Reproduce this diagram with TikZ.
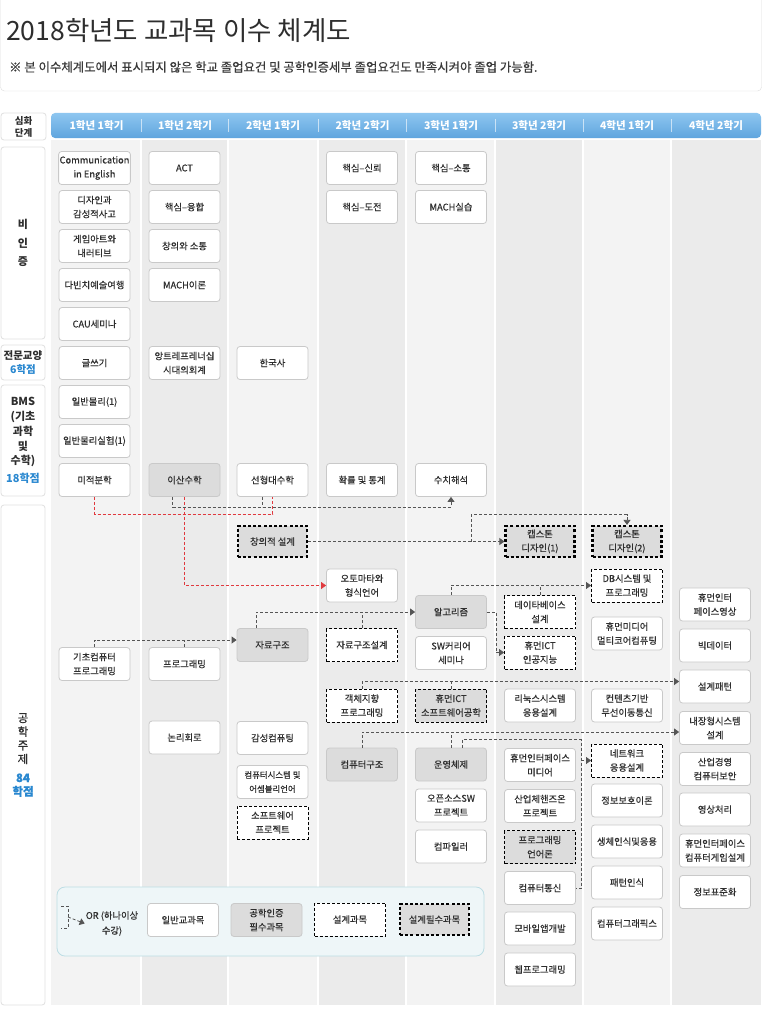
\documentclass[tikz,border=0pt]{standalone}
\usepackage{fontspec}
\setmainfont{Noto Sans CJK KR}
\newfontfamily\boxfont{Noto Sans CJK KR}[FakeBold=0.45]
\usetikzlibrary{arrows.meta}

\definecolor{colA}{HTML}{F3F3F3}
\definecolor{colB}{HTML}{EBEBEB}
\definecolor{boxline}{HTML}{C9C9C9}
\definecolor{sideline}{HTML}{E0E0E0}
\definecolor{reqfill}{HTML}{DCDCDC}
\definecolor{txt}{HTML}{2E2E2E}
\definecolor{subtxt}{HTML}{3A3A3A}
\definecolor{linkgray}{HTML}{555555}
\definecolor{linkred}{HTML}{E0393E}
\definecolor{credit}{HTML}{2A88D0}
\definecolor{hdrtop}{HTML}{8EC6F0}
\definecolor{hdrbot}{HTML}{5FA5DE}
\definecolor{legfill}{HTML}{EEF6F8}
\definecolor{legline}{HTML}{BCDDE4}
\definecolor{frame}{HTML}{DDDDDD}

\tikzset{
  course/.style={draw=boxline, fill=white, rounded corners=3pt, line width=0.8pt,
    minimum width=71pt, minimum height=33pt, inner sep=1pt, align=center,
    text=txt, font=\boxfont\fontsize{9.3}{14}\selectfont},
  corereq/.style={course, fill=reqfill},
  designc/.style={course, draw=black, sharp corners, line width=0.9pt,
    dash pattern=on 3pt off 2pt},
  designcore/.style={designc, fill=reqfill},
  designreq/.style={course, fill=reqfill, draw=black, sharp corners, line width=2.2pt,
    dash pattern=on 3pt off 2.2pt, minimum width=69pt, minimum height=31pt},
  sidebox/.style={draw=sideline, fill=white, rounded corners=3pt, line width=0.8pt,
    minimum width=44pt, align=center, text=txt, inner sep=0pt},
  hdr/.style={text=white, font=\fontsize{10.5}{12}\selectfont\bfseries},
  link/.style={draw=linkgray, dash pattern=on 3pt off 2pt, line width=0.8pt},
  redlink/.style={link, draw=linkred},
  tip/.style={-{Triangle[length=5pt,width=7pt]}},
}

\begin{document}
\begin{tikzpicture}[x=1pt,y=-1pt]
\useasboundingbox (0,0) rectangle (762,1022);
\fill[white] (0,0) rectangle (762,1022);

% title block
\draw[frame, rounded corners=4pt] (0.5,-20) -- (0.5,91) -- (761.5,91) -- (761.5,-20);
\node[anchor=west, inner sep=0pt, text=txt, font=\fontsize{26.5}{30}\selectfont] (title) at (6,31) {2018학년도 교과목 이수 체계도};
\node[anchor=west, inner sep=0pt, text=subtxt, font=\boxfont\fontsize{12.4}{14}\selectfont] (note) at (9,67) {※ 본 이수체계도에서 표시되지 않은 학교 졸업요건 및 공학인증세부 졸업요건도 만족시켜야 졸업 가능함.};

% semester columns
\foreach \l/\r/\c in {51/141/colA,141/228/colB,228/318/colA,318/406/colB,406/495/colA,495/583/colB,583/671/colA,671/761/colB}
  \fill[\c] (\l,140) rectangle (\r,1005);
\foreach \x in {141,228,318,406,495,583,671}
  \draw[white, line width=1.5pt] (\x,140) -- (\x,1005);

% header bar
\shade[top color=hdrtop, bottom color=hdrbot, rounded corners=4pt] (51,113) rectangle (761,138);
\foreach \x in {141,228,318,406,495,583,671}
  \draw[white, opacity=0.6] (\x,119) -- (\x,132);
\node[hdr] (h1) at (96.5,125.5) {1학년 1학기};
\node[hdr] (h2) at (185,125.5) {1학년 2학기};
\node[hdr] (h3) at (273,125.5) {2학년 1학기};
\node[hdr] (h4) at (362.5,125.5) {2학년 2학기};
\node[hdr] (h5) at (451,125.5) {3학년 1학기};
\node[hdr] (h6) at (539,125.5) {3학년 2학기};
\node[hdr] (h7) at (627,125.5) {4학년 1학기};
\node[hdr] (h8) at (716,125.5) {4학년 2학기};

% category labels
\node[sidebox, minimum width=45pt, minimum height=27pt, font=\fontsize{9.5}{12}\selectfont\bfseries] (stage) at (23.5,126.5) {심화\\단계};
\node[sidebox, minimum height=192pt, font=\fontsize{11}{18.5}\selectfont\bfseries] (nonacc) at (23,243) {비\\인\\증};
\node[sidebox, minimum height=35pt, font=\fontsize{10.5}{14.5}\selectfont\bfseries] (liberal) at (23,362.5) {전문교양\\{\color{credit}6학점}};
\node[sidebox, minimum height=111pt, font=\fontsize{11}{14.7}\selectfont\bfseries] (bms) at (23,440.5) {BMS\\(기초\\과학\\및\\수학)\\[3pt]{\color{credit}18학점}};
\node[sidebox, minimum height=500pt, font=\boxfont\fontsize{11.5}{13.7}\selectfont] (major) at (23,755) {공\\학\\주\\제\\[5pt]{\color{credit}\bfseries 84}\\{\color{credit}\bfseries 학점}};

% non-accredited courses
\node[course] (comm) at (94.5,168) {Communication\\in English};
\node[course] (design) at (94.5,207) {디자인과\\감성적사고};
\node[course] (gameart) at (94.5,246) {게임아트와\\내러티브};
\node[course] (davinci) at (94.5,285) {다빈치예술여행};
\node[course] (cau) at (94.5,324) {CAU세미나};
\node[course] (act) at (184.5,168) {ACT};
\node[course] (fusion) at (184.5,207) {핵심–융합};
\node[course] (creacomm) at (184.5,246) {창의와 소통};
\node[course] (macht) at (184.5,285) {MACH이론};
\node[course] (trust) at (362,168) {핵심–신뢰};
\node[course] (chall) at (362,207) {핵심–도전};
\node[course] (corecomm) at (451,168) {핵심–소통};
\node[course] (machp) at (451,207) {MACH실습};

% liberal arts
\node[course] (writing) at (94.5,363) {글쓰기};
\node[course] (entre) at (184.5,363) {앙트레프레너십\\시대의회계};
\node[course] (korhist) at (272.5,363) {한국사};

% basic science and mathematics
\node[course] (phys) at (94.5,402) {일반물리(1)};
\node[course] (physlab) at (94.5,441) {일반물리실험(1)};
\node[course] (calc) at (94.5,480) {미적분학};
\node[corereq] (isan) at (184.5,480) {이산수학};
\node[course] (linalg) at (272.5,480) {선형대수학};
\node[course] (prob) at (362,480) {확률 및 통계};
\node[course] (numan) at (451,480) {수치해석};

% engineering major
\node[designreq] (creative) at (272.5,541.5) {창의적 설계};
\node[designreq] (cap1) at (540,541.5) {캡스톤\\디자인(1)};
\node[designreq] (cap2) at (627,541.5) {캡스톤\\디자인(2)};
\node[course] (auto) at (362,585.5) {오토마타와\\형식언어};
\node[designc] (db) at (627,585.5) {DB시스템 및\\프로그래밍};
\node[corereq] (algo) at (451,612) {알고리즘};
\node[designc] (dbdesign) at (540,612) {데이타베이스\\설계};
\node[course] (multicore) at (627,633.5) {휴먼미디어\\멀티코어컴퓨팅};
\node[course] (hciimg) at (715,604.5) {휴먼인터\\페이스영상};
\node[course] (bigdata) at (715,645.5) {빅데이터};
\node[corereq] (ds) at (272.5,645) {자료구조};
\node[designc] (dsdesign) at (362,645) {자료구조설계};
\node[course] (swcareer) at (451,653) {SW커리어\\세미나};
\node[designc] (hai) at (540,652.5) {휴먼ICT\\인공지능};
\node[course] (basicprog) at (94.5,664) {기초컴퓨터\\프로그래밍};
\node[course] (prog) at (184.5,664) {프로그래밍};
\node[course] (pattern) at (715,686.5) {설계패턴};
\node[designc] (oop) at (362,705.5) {객체지향\\프로그래밍};
\node[designcore] (hse) at (451,705.5) {휴먼ICT\\소프트웨어공학};
\node[course] (linux) at (540,705.5) {리눅스시스템\\응용설계};
\node[course] (contents) at (627,705.5) {컨텐츠기반\\무선이동통신};
\node[course] (embedded) at (715,728) {내장형시스템\\설계};
\node[course] (logic) at (184.5,737.5) {논리회로};
\node[course] (affect) at (272.5,738) {감성컴퓨팅};
\node[corereq] (cs) at (362,764.5) {컴퓨터구조};
\node[corereq] (os) at (451,764.5) {운영체제};
\node[course] (hcimedia) at (540,765) {휴먼인터페이스\\미디어};
\node[designc] (network) at (627,760.5) {네트워크\\응용설계};
\node[course] (security) at (715,769) {산업경영\\컴퓨터보안};
\node[course, font=\boxfont\fontsize{8.4}{14}\selectfont] (asm) at (272.5,782) {컴퓨터시스템 및\\어셈블리언어};
\node[designc] (swproj) at (272.5,822.5) {소프트웨어\\프로젝트};
\node[course] (oss) at (451,805.5) {오픈소스SW\\프로젝트};
\node[course] (handson) at (540,806) {산업체핸즈온\\프로젝트};
\node[course] (infosec) at (627,800.5) {정보보호이론};
\node[course] (imgproc) at (715,809.5) {영상처리};
\node[course] (compiler) at (451,846.5) {컴파일러};
\node[designcore] (proglang) at (540,847) {프로그래밍\\언어론};
\node[course] (biometric) at (627,841.5) {생체인식및응용};
\node[course] (hcigame) at (715,850.5) {휴먼인터페이스\\컴퓨터게임설계};
\node[course] (comnet) at (540,888) {컴퓨터통신};
\node[course] (patrec) at (627,882.5) {패턴인식};
\node[course] (stdz) at (715,892) {정보표준화};
\node[course] (graphics) at (627,923.5) {컴퓨터그래픽스};
\node[course] (mobile) at (540,928.5) {모바일앱개발};
\node[course] (web) at (540,969.5) {웹프로그래밍};

% prerequisite links
\draw[redlink] (calc.south) -- ++(0,17) -| (linalg.south);
\draw[redlink,tip] (isan.south) |- (auto.west);
\draw[link,tip] ([xshift=-12pt]isan.south) -- ++(0,10) -| (numan.south);
\draw[link] ([xshift=-10pt]linalg.south) -- ++(0,10);

\draw[link,tip] (creative.east) -- (cap1.west);
\draw[link,tip] ([xshift=-33pt]cap1.west) -- ++(0,-27) -| (cap2.north);

\draw[link,tip] (algo.north) |- (db.west);
\draw[link] (dbdesign.north) -- (dbdesign.north |- db.west);

\draw[link,tip] ([xshift=-16pt]ds.north) |- (algo.west);
\draw[link] (dsdesign.north) -- (dsdesign.north |- algo.west);

\coordinate (dsin) at ([yshift=5pt]ds.west);
\draw[link,tip] (basicprog.north) |- (dsin);
\draw[link] (prog.north) -- (prog.north |- dsin);

\draw[link,tip] (algo.east) -- ++(9,0) |- (hai.west);

\coordinate (patin) at ([yshift=5pt]pattern.west);
\draw[link,tip] (oop.north) |- (patin);
\draw[link] (hse.north) -- (hse.north |- patin);

\coordinate (embin) at ([yshift=-4pt]embedded.west);
\draw[link,tip] (cs.north) |- (embin);
\draw[link] (os.north) -- (os.north |- embin);

\coordinate (netin) at ([xshift=-10pt]network.west);
\draw[link] ([xshift=11pt]os.north) -- ++(0,-8) -| (comnet.east -| netin) -- (comnet.east);
\draw[link,tip] (netin) -- (network.west);

% legend
\node[draw=legline, fill=legfill, rounded corners=8pt, line width=0.8pt,
      minimum width=427pt, minimum height=69pt] (legend) at (270.5,921.5) {};
\node[align=center, inner sep=1pt, text=txt, font=\boxfont\fontsize{9.3}{15}\selectfont] (ortext) at (112,923.5) {OR (하나이상\\수강)};
\coordinate (orjoin) at (68,917);
\draw[link] ([xshift=-7pt,yshift=11pt]orjoin) -- ([yshift=11pt]orjoin) -- ([yshift=-11pt]orjoin) -- ([xshift=-7pt,yshift=-11pt]orjoin);
\draw[link,tip] (orjoin) -- (ortext.west);
\node[course] (lgeneral) at (183,920) {일반교과목};
\node[corereq] (lcore) at (266.5,920) {공학인증\\필수과목};
\node[designc] (ldesign) at (350,919.5) {설계과목};
\node[designreq] (ldesreq) at (434.5,919.5) {설계필수과목};
\end{tikzpicture}
\end{document}
